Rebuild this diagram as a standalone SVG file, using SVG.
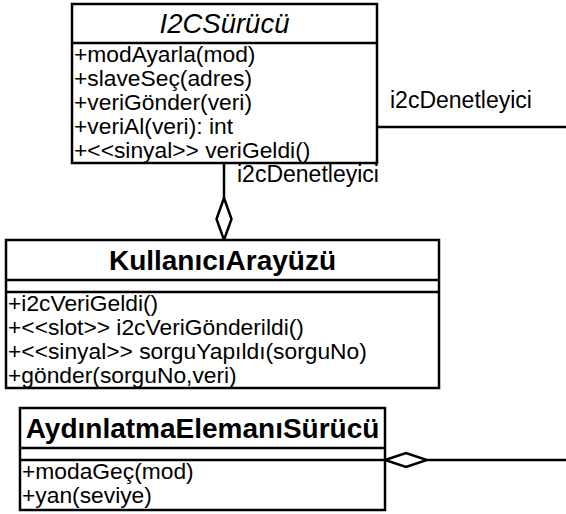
<svg xmlns="http://www.w3.org/2000/svg" width="566" height="514" viewBox="0 0 566 514">
<defs>
<style>
.box{fill:#fff;stroke:#000;stroke-width:2.5}
.ln{stroke:#000;stroke-width:2.5;fill:none}
.dia{fill:#fff;stroke:#000;stroke-width:2.5}
.op{font-family:"Liberation Sans",Arial,sans-serif;font-size:22.8px;fill:#000}
.ti{font-family:"Liberation Sans",Arial,sans-serif;font-size:28px;font-weight:bold;fill:#000;text-anchor:middle}
.tii{font-family:"Liberation Sans",Arial,sans-serif;font-size:27.5px;font-style:italic;fill:#000;text-anchor:middle}
.lb{font-family:"Liberation Sans",Arial,sans-serif;font-size:23px;fill:#000}
</style>
</defs>
<g id="connectors">
<polyline class="ln" points="377,127 566,127"/>
<text class="lb" x="390" y="108">i2cDenetleyici</text>
<line class="ln" x1="224" y1="163" x2="224" y2="198"/>
<polygon class="dia" points="224,198 231.5,219 224,240 216.5,219"/>
<text class="lb" x="237" y="182">i2cDenetleyici</text>
<line class="ln" x1="427" y1="460" x2="566" y2="460"/>
<polygon class="dia" points="385,460 406,453 427,460 406,467"/>
</g>
<g id="I2CSurucu">
<rect class="box" x="72" y="4" width="305" height="159"/>
<line class="ln" x1="72" y1="43" x2="377" y2="43"/>
<text class="tii" x="224.5" y="33">I2CSürücü</text>
<text class="op" x="74" y="62">+modAyarla(mod)</text>
<text class="op" x="74" y="86">+slaveSeç(adres)</text>
<text class="op" x="74" y="110">+veriGönder(veri)</text>
<text class="op" x="74" y="134">+veriAl(veri): int</text>
<text class="op" x="74" y="158">+&lt;&lt;sinyal&gt;&gt; veriGeldi()</text>
</g>
<g id="KullaniciArayuzu">
<rect class="box" x="6" y="240" width="433" height="148"/>
<line class="ln" x1="6" y1="280" x2="439" y2="280"/>
<line class="ln" x1="6" y1="292" x2="439" y2="292"/>
<text class="ti" x="222.5" y="270">KullanıcıArayüzü</text>
<text class="op" x="8" y="311">+i2cVeriGeldi()</text>
<text class="op" x="8" y="335">+&lt;&lt;slot&gt;&gt; i2cVeriGönderildi()</text>
<text class="op" x="8" y="359">+&lt;&lt;sinyal&gt;&gt; sorguYapıldı(sorguNo)</text>
<text class="op" x="8" y="383">+gönder(sorguNo,veri)</text>
</g>
<g id="AydinlatmaElemaniSurucu">
<rect class="box" x="20" y="408" width="365" height="102"/>
<line class="ln" x1="20" y1="448" x2="385" y2="448"/>
<line class="ln" x1="20" y1="460" x2="385" y2="460"/>
<text class="ti" x="202.5" y="438">AydınlatmaElemanıSürücü</text>
<text class="op" x="22" y="479">+modaGeç(mod)</text>
<text class="op" x="22" y="503">+yan(seviye)</text>
</g>
</svg>
